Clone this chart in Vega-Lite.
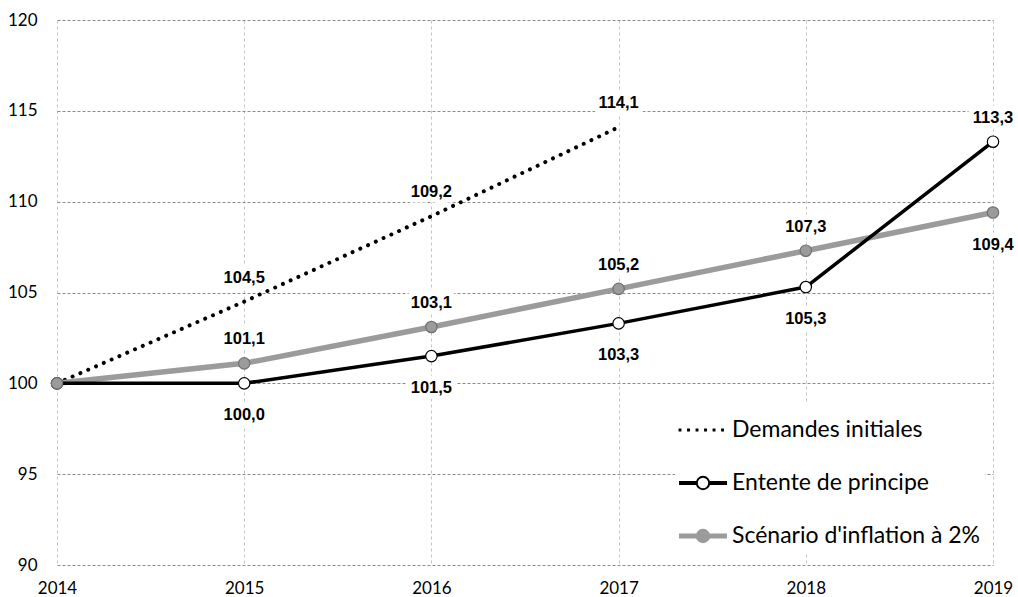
{
  "$schema": "https://vega.github.io/schema/vega-lite/v6.json",
  "width": 936,
  "height": 545,
  "autosize": {"type": "none"},
  "padding": {"left": 57, "top": 20, "right": 25, "bottom": 32},
  "background": "white",
  "config": {
    "view": {"stroke": null},
    "locale": {"number": {"decimal": ",", "thousands": "\u00a0", "grouping": [3], "currency": ["", " €"]}},
    "axis": {"domain": false, "ticks": false, "labelFont": "Lato", "labelFontSize": 17, "labelColor": "black"},
    "legend": {
      "orient": "none", "legendX": 618, "legendY": 382,
      "fillColor": "white", "padding": 4,
      "labelFont": "Lato", "labelFontSize": 23, "labelColor": "black", "labelOffset": 5, "labelLimit": 400,
      "symbolSize": 2116, "symbolStrokeWidth": 2, "symbolOpacity": 1, "rowPadding": 17
    }
  },
  "data": {
    "values": [
      {"series": "Demandes initiales", "year": 2014, "value": 100},
      {"series": "Demandes initiales", "year": 2015, "value": 104.5},
      {"series": "Demandes initiales", "year": 2016, "value": 109.2},
      {"series": "Demandes initiales", "year": 2017, "value": 114.1},
      {"series": "Entente de principe", "year": 2014, "value": 100},
      {"series": "Entente de principe", "year": 2015, "value": 100.0},
      {"series": "Entente de principe", "year": 2016, "value": 101.5},
      {"series": "Entente de principe", "year": 2017, "value": 103.3},
      {"series": "Entente de principe", "year": 2018, "value": 105.3},
      {"series": "Entente de principe", "year": 2019, "value": 113.3},
      {"series": "Scénario d'inflation à 2%", "year": 2014, "value": 100},
      {"series": "Scénario d'inflation à 2%", "year": 2015, "value": 101.1},
      {"series": "Scénario d'inflation à 2%", "year": 2016, "value": 103.1},
      {"series": "Scénario d'inflation à 2%", "year": 2017, "value": 105.2},
      {"series": "Scénario d'inflation à 2%", "year": 2018, "value": 107.3},
      {"series": "Scénario d'inflation à 2%", "year": 2019, "value": 109.4}
    ]
  },
  "encoding": {
    "x": {
      "field": "year", "type": "quantitative", "title": null,
      "scale": {"domain": [2014, 2019], "nice": false, "zero": false},
      "axis": {"values": [2014, 2015, 2016, 2017, 2018, 2019], "format": "d", "grid": true, "gridColor": "#c4c4c4", "gridDash": [3, 3], "labelPadding": 15, "labelFlush": false}
    },
    "y": {
      "field": "value", "type": "quantitative", "title": null,
      "scale": {"domain": [90, 120], "nice": false, "zero": false},
      "axis": {"values": [90, 95, 100, 105, 110, 115, 120], "grid": true, "gridColor": "#8a8a8a", "gridDash": [3, 2], "labelPadding": 20}
    }
  },
  "layer": [
    {
      "transform": [{"filter": "datum.series[0] === 'D'"}],
      "mark": {"type": "line", "strokeCap": "round", "strokeWidth": 4, "strokeDash": [0.01, 8.5]},
      "encoding": {
        "stroke": {
          "field": "series", "type": "nominal",
          "scale": {"domain": ["Demandes initiales", "Entente de principe", "Scénario d'inflation à 2%"], "range": ["black", "black", "#9b9b9b"]},
          "legend": {"title": null}
        }
      }
    },
    {
      "transform": [{"filter": "datum.series[0] === 'S'"}],
      "mark": {"type": "line", "strokeWidth": 5.5, "strokeJoin": "round"},
      "encoding": {"stroke": {"field": "series", "type": "nominal", "legend": {"title": null}}}
    },
    {
      "transform": [{"filter": "datum.series[0] === 'E'"}],
      "mark": {"type": "line", "strokeWidth": 3.5, "strokeJoin": "round"},
      "encoding": {"stroke": {"field": "series", "type": "nominal", "legend": {"title": null}}}
    },
    {
      "transform": [{"filter": "datum.series[0] !== 'D'"}],
      "mark": {"type": "point", "shape": "circle", "filled": true, "size": 130, "strokeWidth": 1.2, "opacity": 1},
      "encoding": {
        "fill": {
          "field": "series", "type": "nominal",
          "scale": {"domain": ["Demandes initiales", "Entente de principe", "Scénario d'inflation à 2%"], "range": ["black", "white", "#9b9b9b"]},
          "legend": {"title": null}
        },
        "stroke": {"condition": {"test": "datum.series[0] === 'E'", "value": "black"}, "value": "#707070"}
      }
    },
    {
      "transform": [{"filter": "false"}],
      "mark": {"type": "point", "opacity": 1},
      "encoding": {
        "shape": {
          "field": "series", "type": "nominal",
          "scale": {
            "domain": ["Demandes initiales", "Entente de principe", "Scénario d'inflation à 2%"],
            "range": [
              "M-1.02,-0.02L-0.98,-0.02L-0.98,0.02L-1.02,0.02Z M-0.65,-0.02L-0.61,-0.02L-0.61,0.02L-0.65,0.02Z M-0.28,-0.02L-0.24,-0.02L-0.24,0.02L-0.28,0.02Z M0.09,-0.02L0.13,-0.02L0.13,0.02L0.09,0.02Z M0.46,-0.02L0.5,-0.02L0.5,0.02L0.46,0.02Z M0.83,-0.02L0.87,-0.02L0.87,0.02L0.83,0.02Z",
              "M-1,-0.04L-0.27,-0.04L-0.27,0.04L-1,0.04Z M0.27,-0.04L1,-0.04L1,0.04L0.27,0.04Z M-0.27,0C-0.27,-0.149,-0.149,-0.27,0,-0.27C0.149,-0.27,0.27,-0.149,0.27,0C0.27,0.149,0.149,0.27,0,0.27C-0.149,0.27,-0.27,0.149,-0.27,0Z",
              "M-1,-0.06L-0.27,-0.06L-0.27,0.06L-1,0.06Z M0.27,-0.06L1,-0.06L1,0.06L0.27,0.06Z M-0.27,0C-0.27,-0.149,-0.149,-0.27,0,-0.27C0.149,-0.27,0.27,-0.149,0.27,0C0.27,0.149,0.149,0.27,0,0.27C-0.149,0.27,-0.27,0.149,-0.27,0Z"
            ]
          },
          "legend": {"title": null}
        }
      }
    },
    {
      "transform": [{"filter": "datum.year > 2014 && !((datum.series[0] === 'E' && datum.year < 2019) || (datum.series[0] === 'S' && datum.year === 2019))"}],
      "layer": [
        {
          "mark": {"type": "text", "dy": -24, "font": "Liberation Sans", "fontWeight": "bold", "fontSize": 16.5, "fill": "white", "stroke": "white", "strokeWidth": 11, "strokeJoin": "round"},
          "encoding": {"text": {"field": "value", "type": "quantitative", "format": ".1f"}}
        },
        {
          "mark": {"type": "text", "dy": -24, "font": "Liberation Sans", "fontWeight": "bold", "fontSize": 16.5, "fill": "black"},
          "encoding": {"text": {"field": "value", "type": "quantitative", "format": ".1f"}}
        }
      ]
    },
    {
      "transform": [{"filter": "datum.year > 2014 && ((datum.series[0] === 'E' && datum.year < 2019) || (datum.series[0] === 'S' && datum.year === 2019))"}],
      "layer": [
        {
          "mark": {"type": "text", "dy": 32, "font": "Liberation Sans", "fontWeight": "bold", "fontSize": 16.5, "fill": "white", "stroke": "white", "strokeWidth": 11, "strokeJoin": "round"},
          "encoding": {"text": {"field": "value", "type": "quantitative", "format": ".1f"}}
        },
        {
          "mark": {"type": "text", "dy": 32, "font": "Liberation Sans", "fontWeight": "bold", "fontSize": 16.5, "fill": "black"},
          "encoding": {"text": {"field": "value", "type": "quantitative", "format": ".1f"}}
        }
      ]
    }
  ]
}
